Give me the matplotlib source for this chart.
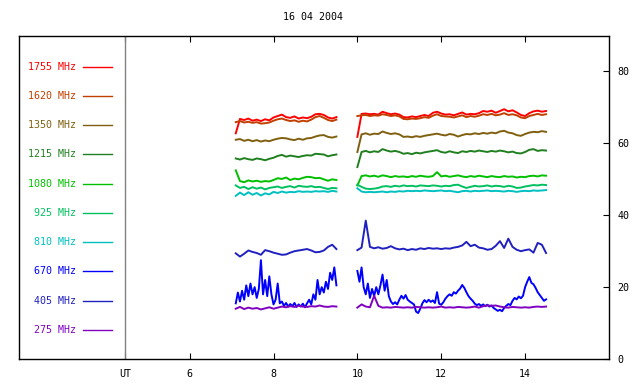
import numpy as np
import matplotlib
matplotlib.use("Agg")
import matplotlib.pyplot as plt

TITLE = "16 04 2004"
FONT = "DejaVu Sans Mono"

freqs = ["1755", "1620", "1350", "1215", "1080", "925", "810", "670", "405", "275"]
colors = ["#ff0000", "#c04000", "#806010", "#208020", "#00c000",
          "#00c060", "#00c0c0", "#0000ff", "#2020c0", "#8000c0"]

x_ticks = [4.46, 6, 8, 10, 12, 14]
x_labels = ["UT", "6", "8", "10", "12", "14"]
y_ticks = [0, 20, 40, 60, 80]
ut_line = 4.46

# time grids (UT hours), coarse for the flat channels, fine for 670 MHz
t1 = np.linspace(7.1, 9.5, 25)
t2 = np.linspace(10.0, 14.5, 46)
tf1 = np.linspace(7.1, 9.5, 49)
tf2 = np.linspace(10.0, 14.5, 91)

s1755_a = [62.8, 66.8, 66.5, 66.9, 66.3, 66.6, 66.2, 66.7, 66.4, 67.2, 67.6, 68.0, 67.3,
           67.1, 67.5, 66.9, 67.2, 67.0, 67.4, 68.1, 68.2, 67.9, 67.2, 66.9, 67.3]
s1755_b = [61.8, 68.2, 68.3, 68.1, 68.2, 68.0, 68.8, 68.4, 68.1, 68.3,
           68.0, 67.3, 67.2, 67.5, 67.3, 67.6, 67.9, 67.6, 68.5, 68.8,
           68.3, 68.0, 68.1, 67.8, 68.2, 68.6, 68.0, 68.2, 68.1, 68.4,
           69.0, 68.8, 69.1, 68.5, 69.0, 69.5, 68.9, 69.2, 68.6, 67.9,
           67.6, 68.4, 68.9, 69.1, 68.8, 69.0]

s1620_a = [65.9, 66.2, 65.8, 66.0, 65.7, 65.9, 65.5, 65.6, 65.8, 66.3, 66.7, 66.9, 66.5,
           66.2, 66.4, 66.0, 66.3, 66.1, 66.6, 67.3, 67.6, 67.1, 66.5, 66.2, 66.6]
s1620_b = [67.6, 67.8, 67.9, 67.6, 67.8, 67.7, 68.1, 67.9, 67.6, 67.8,
           67.5, 66.8, 66.7, 66.9, 66.8, 67.0, 67.3, 67.1, 67.7, 68.1,
           67.6, 67.5, 67.4, 67.2, 67.5, 67.8, 67.3, 67.6, 67.4, 67.7,
           68.1, 67.9, 68.2, 67.8, 68.0, 68.4, 67.9, 68.1, 67.8, 67.2,
           67.0, 67.6, 67.9, 68.2, 67.9, 68.1]

s1350_a = [61.0, 61.2, 60.7, 61.0, 60.6, 60.9, 60.5, 60.8, 60.6, 61.0, 61.3, 61.5, 61.4,
           61.1, 60.9, 61.3, 61.0, 61.4, 61.5, 61.9, 62.2, 62.3, 61.8, 61.6, 61.9]
s1350_b = [57.6, 62.5, 62.8, 62.4, 62.7, 62.6, 63.3, 62.9, 62.6, 62.8,
           62.5, 61.8, 61.9, 61.7, 62.0, 61.8, 62.1, 62.3, 62.5, 62.7,
           62.4, 62.2, 62.6, 62.4, 61.9, 62.3, 62.6, 62.5, 62.8, 62.6,
           62.9, 62.7, 63.0, 62.8, 63.3, 63.5, 63.0, 62.8, 62.3, 62.1,
           62.6, 63.0, 63.2, 63.1, 63.4, 63.2]

s1215_a = [55.8, 55.5, 55.9, 55.6, 55.4, 55.8, 55.6, 55.3, 55.7, 56.0, 56.5, 56.8, 56.3,
           56.6, 56.4, 56.2, 56.5, 56.7, 56.6, 57.1, 57.0, 56.9, 56.4, 56.7, 56.9]
s1215_b = [53.4, 57.6, 57.9, 57.5, 57.8, 57.6, 58.4, 58.0, 57.7, 57.9,
           57.6, 57.1, 57.3, 57.0, 57.4, 57.2, 57.5, 57.7, 57.9, 58.1,
           57.6, 57.4, 57.8, 57.5, 57.3, 57.8, 57.6, 57.9, 57.7, 58.0,
           57.8, 57.6, 57.9, 57.7, 58.0, 57.8, 57.5, 57.7, 57.3, 57.2,
           57.6, 58.2, 58.4, 57.9, 58.1, 58.0]

s1080_a = [52.5, 49.5, 49.2, 49.7, 49.4, 49.6, 49.3, 49.5, 49.4, 49.8, 50.3, 50.1, 50.5,
           49.8, 50.2, 50.0, 50.4, 50.7, 50.6, 50.3, 50.4, 50.0, 49.6, 50.0, 49.8]
s1080_b = [48.3, 50.9, 51.1, 50.8, 51.0, 50.7, 51.1, 50.9, 50.6, 50.9,
           50.7, 50.8, 50.6, 50.9, 50.7, 51.0, 50.8, 50.7, 50.9, 52.0,
           50.8, 51.0, 50.7, 50.9, 51.1, 50.8, 50.6, 50.9, 50.7, 51.0,
           50.8, 50.6, 50.9, 50.7, 50.6, 50.9, 50.7, 50.8, 50.5, 50.7,
           50.6, 50.9, 51.0, 50.8, 51.1, 51.0]

s925_a = [48.3, 47.6, 47.9, 47.3, 47.8, 47.4, 47.7, 47.2, 47.6, 47.8, 48.0, 47.6, 47.9,
          48.1, 47.7, 48.2, 48.0, 47.9, 48.1, 47.8, 47.9, 47.6, 47.3, 47.6, 47.5]
s925_b = [48.5, 47.9, 47.4, 47.3, 47.4, 47.6, 48.0, 48.1, 47.9, 48.2,
          48.0, 48.3, 48.1, 48.2, 48.0, 48.3, 48.2, 48.1, 48.3, 48.2,
          48.0, 48.2, 48.1, 48.4, 48.5, 48.0, 47.6, 47.9, 48.2, 48.0,
          48.1, 48.3, 48.0, 48.2, 48.1, 47.9, 48.2, 48.0, 47.6, 47.7,
          48.0, 48.2, 48.4, 48.3, 48.5, 48.4]

s810_a = [45.4, 46.3, 45.6, 46.4, 45.7, 46.2, 45.5, 46.1, 45.8, 46.5, 46.2, 46.6, 46.3,
          46.5, 46.4, 46.7, 46.5, 46.6, 46.5, 46.7, 46.6, 46.7, 46.5, 46.8, 46.6]
s810_b = [47.5, 46.6, 46.4, 46.5, 46.4, 46.5, 46.6, 46.4, 46.6, 46.5,
          46.7, 46.6, 46.8, 46.7, 46.8, 46.7, 46.9, 46.8, 46.7, 46.8,
          46.9, 46.7, 46.8, 46.6, 46.4, 46.7, 46.8, 46.6, 46.8, 46.7,
          46.8, 46.9, 46.7, 46.8, 46.7, 46.6, 46.8, 46.7, 46.5, 46.7,
          46.8, 46.7, 46.9, 46.8, 46.9, 47.0]

s670_a = [15.5, 18.5, 16.0, 19.0, 16.5, 20.5, 17.5, 21.0, 18.0, 20.0,
          17.0, 19.5, 27.5, 18.0, 22.0, 17.5, 23.0, 18.0, 15.2, 16.5,
          21.0, 15.5, 16.0, 14.8, 15.6, 14.6, 15.3, 14.7, 15.6, 14.5,
          15.2, 14.6, 15.4, 14.4, 15.5, 16.5, 15.2, 18.0, 16.5, 22.0,
          18.0, 20.0, 18.5, 21.5, 19.5, 24.0, 22.0, 25.5, 20.5]
s670_b = [24.5, 21.5, 25.5, 20.0, 18.0, 21.0, 17.0, 19.5, 17.5, 20.0,
          18.0, 20.5, 23.5, 19.0, 22.0, 17.5, 16.0, 15.3, 15.8, 15.2,
          16.5, 17.6, 16.8, 17.8, 16.5, 16.0, 15.6, 15.2, 13.2, 12.8,
          14.0, 15.5, 16.4, 15.8, 16.5, 15.9, 16.3, 15.6, 18.6, 15.4,
          15.1, 15.8, 16.8, 17.5, 18.0, 17.6, 18.6, 18.2, 19.0, 19.6,
          20.6, 19.8, 18.6, 17.5, 16.8, 16.2, 15.4, 15.0, 15.3, 14.8,
          15.2, 14.7, 15.1, 14.6, 14.9, 14.2, 13.8, 13.4, 13.7, 13.3,
          14.2, 14.8, 15.3, 15.0, 16.2, 17.0, 16.6, 17.4, 16.9, 17.6,
          20.0, 21.5, 22.8, 21.2, 20.8, 19.8, 18.6, 17.8, 17.0, 16.2,
          16.6]

s405_a = [29.4, 28.5, 29.3, 30.2, 29.8, 29.5, 29.0, 30.3, 30.0, 29.6, 29.3, 29.0, 29.1,
          29.6, 30.0, 30.2, 30.4, 30.6, 30.2, 29.7, 29.8, 30.2, 31.2, 31.8, 30.6]
s405_b = [30.3, 31.0, 38.5, 31.2, 30.8, 31.1, 30.7, 30.9, 31.4, 30.8,
          30.5, 30.7, 30.3, 30.6, 30.4, 30.8, 30.6, 30.9, 30.7, 30.8,
          30.6, 30.8, 30.7, 31.0, 31.2, 31.6, 32.6, 31.4, 31.8, 31.0,
          30.8, 30.4, 30.6, 31.5, 32.8, 30.9, 33.5, 31.2, 30.4, 30.0,
          30.3, 30.5, 29.6, 32.3, 31.8, 29.5]

s275_a = [14.0, 14.5, 13.9, 14.3, 14.0, 14.2, 13.8, 14.1, 14.4, 14.0, 14.3, 14.6, 14.4,
          14.7, 14.5, 14.8, 14.6, 14.5, 14.7, 14.6, 14.9, 14.6, 14.5, 14.7, 14.6]
s275_b = [14.3, 15.2, 14.6, 14.4, 17.6, 14.8, 14.3, 14.4, 14.3, 14.5,
          14.4, 14.3, 14.4, 14.3, 14.5, 14.4, 14.3, 14.4, 14.3, 14.4,
          14.6, 14.3, 14.4, 14.3, 14.5, 14.4, 14.3, 14.4, 14.6, 14.3,
          14.7, 14.9, 14.8, 14.9, 14.6, 14.4, 14.3, 14.5, 14.4, 14.3,
          14.4, 14.3, 14.5, 14.6, 14.5, 14.6]

channels = [
    (t1, s1755_a, t2, s1755_b),
    (t1, s1620_a, t2, s1620_b),
    (t1, s1350_a, t2, s1350_b),
    (t1, s1215_a, t2, s1215_b),
    (t1, s1080_a, t2, s1080_b),
    (t1, s925_a, t2, s925_b),
    (t1, s810_a, t2, s810_b),
    (tf1, s670_a, tf2, s670_b),
    (t1, s405_a, t2, s405_b),
    (t1, s275_a, t2, s275_b),
]

fig = plt.figure(figsize=(6.4, 3.84), dpi=100)
ax = fig.add_axes([0.029, 0.065, 0.9225, 0.8425])

for (ta, ya, tb, yb), c in zip(channels, colors):
    ax.plot(ta, ya, color=c, lw=1.4)
    ax.plot(tb, yb, color=c, lw=1.4)

ax.axvline(ut_line, color="#808080", lw=1)

# hand-made legend on the left of the UT line
for i, (f, c) in enumerate(zip(freqs, colors)):
    yy = 0.9033 - 0.0903 * i
    ax.text(0.097, yy, f"{f} MHz", color=c, transform=ax.transAxes,
            ha="right", va="center", family=FONT, fontsize=7.2)
    ax.plot([0.1095, 0.1585], [yy, yy], color=c, lw=1, transform=ax.transAxes)

ax.set_xlim(1.92, 16)
ax.set_ylim(0, 90)
ax.set_xticks(x_ticks)
ax.set_xticklabels(x_labels)
ax.set_yticks(y_ticks)
ax.yaxis.tick_right()
ax.tick_params(axis="x", direction="in", length=4, top=True, bottom=True, pad=7,
               labelsize=7.2)
ax.tick_params(axis="y", direction="in", length=4, left=False, right=True,
               labelleft=False, labelright=True, pad=6, labelsize=7.2)
for lab in ax.get_xticklabels() + ax.get_yticklabels():
    lab.set_family(FONT)
for sp in ax.spines.values():
    sp.set_linewidth(1)

fig.text(0.4895, 0.955, TITLE, ha="center", va="center", family=FONT, fontsize=7.2)

fig.savefig("out.png", dpi=100)
